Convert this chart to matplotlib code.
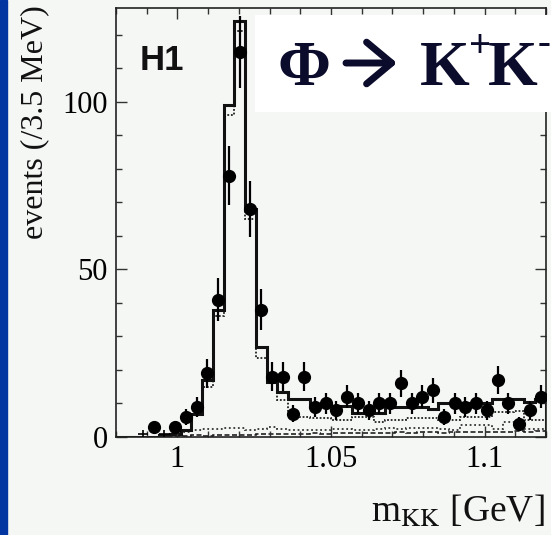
import numpy as np
import matplotlib
matplotlib.use("Agg")
import matplotlib.pyplot as plt
from matplotlib import patches
from matplotlib.ticker import MultipleLocator

plt.rcParams['font.family'] = 'serif'
plt.rcParams['font.serif'] = ['Liberation Serif', 'DejaVu Serif']
plt.rcParams['mathtext.fontset'] = 'stix'

# binning of the K+K- invariant mass (3.5 MeV bins)
mass_lo = 0.98
bin_width = 0.0035
n_bins = 40

# measured events per bin (nan = empty bin)
data_counts = [np.nan, np.nan, 1, 3, 1, 3, 6, 9, 19, 41,
               78, 115, 68, 38, 18, 18, 7, 18, 9, 10,
               8, 12, 10, 8, 10, 10, 16, 10, 12, 14,
               6, 10, 9, 10, 8, 17, 10, 4, 8, 12]

# simulation: total, signal + background, background components
mc_total = [0, 0, 0, 0, 0.5, 0.8, 2.2, 7, 17, 38,
            99, 124, 68, 27, 16.5, 13.5, 11.3, 11.3, 9.3, 9.3,
            9.3, 9.3, 7.2, 7.2, 7.2, 9, 9, 9, 9, 8.4,
            10, 10, 10, 10, 10, 11.3, 11.3, 11.3, 10.5, 11.3]
mc_signal = [0, 0, 0, 0, 0.3, 0.8, 2, 6.5, 15, 36,
             96, 121, 65, 23.5, 16, 11, 7.5, 6, 5.6, 5.6,
             5, 5, 5.9, 5.9, 4.5, 5, 5, 5.6, 5.6, 5.6,
             5, 5, 6, 6, 6, 7.5, 7.5, 7.9, 5, 5]
mc_bkg1 = [0, 0, 0, 0, 0.2, 0.6, 1.5, 2, 2.3, 2.5,
           2.7, 2.7, 2.2, 2.5, 3, 2.5, 2.2, 2.2, 2, 2,
           2.4, 2.4, 2.2, 2, 2.4, 2.7, 2.4, 2.7, 2.7, 2.7,
           2.4, 2, 3.6, 3.6, 3.6, 2.4, 4.5, 4.5, 2.4, 2.4]
mc_bkg2 = [0, 0, 0, 0, 0.2, 0.3, 0.4, 0.5, 0.4, 0.6,
           0.6, 0.7, 0.6, 0.8, 0.9, 1, 0.8, 1, 1.1, 1,
           1.2, 1.1, 1.2, 1.3, 1.1, 1.3, 1.4, 1.2, 1.4, 1.5,
           1.3, 1.5, 1.4, 1.6, 1.5, 1.6, 1.4, 1.7, 1.6, 1.7]

xticks = [1.0, 1.05, 1.1]
xticklabels = ['1', '1.05', '1.1']
yticks = [0, 50, 100]

edges = mass_lo + bin_width * np.arange(n_bins + 1)
centers = 0.5 * (edges[:-1] + edges[1:])
counts = np.array(data_counts, dtype=float)

bg = '#f5f7f5'
W, H = 551, 535
fig = plt.figure(figsize=(W / 100, H / 100), dpi=100, facecolor=bg)
ax = fig.add_axes([116 / W, 98 / H, 430 / W, 429 / H], facecolor=bg)

# histograms
ax.stairs(mc_bkg2, edges, color='#222222', lw=1.2, ls=(0, (3, 1.5)))
ax.stairs(mc_bkg1, edges, color='#333333', lw=1.3, ls=(0, (1, 1.5)))
ax.stairs(mc_signal, edges, color='#222222', lw=1.3, ls=(0, (1, 1)))
ax.stairs(mc_total, edges, color='#111111', lw=2.2)

# data points
big = counts > 1.5
ax.errorbar(centers[big], counts[big], yerr=np.sqrt(counts[big]), fmt='o',
            ms=8.5, color='black', elinewidth=1.6, capsize=0, zorder=5)
small = counts <= 1.5
ax.errorbar(centers[small], counts[small], yerr=np.sqrt(counts[small]),
            xerr=bin_width / 2, fmt='none', color='black', elinewidth=1.2,
            capsize=0, zorder=5)

ax.set_xlim(mass_lo, edges[-1])
ax.set_ylim(0, 128)
ax.set_xticks(xticks)
ax.set_xticklabels(xticklabels)
ax.set_yticks(yticks)
ax.xaxis.set_minor_locator(MultipleLocator(0.01))
ax.yaxis.set_minor_locator(MultipleLocator(10))
ax.tick_params(which='both', direction='in', top=True, right=True,
               labelsize=22, width=1.0, color='#333333')
ax.tick_params(which='major', length=8, pad=6)
ax.tick_params(which='minor', length=4.5)
for s in ax.spines.values():
    s.set_linewidth(1.2)
    s.set_color('#222222')

ax.text(0.056, 0.855, 'H1', transform=ax.transAxes, fontsize=25,
        fontweight='bold', family='Liberation Sans', color='#111111')

fig.text(35 / W, 1 - 5 / H, 'events (/3.5 MeV)', rotation=90,
         ha='center', va='top', fontsize=23, color='#111111')
fig.text(545 / W, 13 / H, r'm$_{\rm KK}$ [GeV]', ha='right',
         va='baseline', fontsize=27, color='#111111')

# blue strip on the left
fig.add_artist(patches.Rectangle((0, 0), 7 / W, 1, transform=fig.transFigure,
                                 color='#0336a0', zorder=10))

# title box
fig.add_artist(patches.Rectangle((255 / W, 1 - 112 / H), 0.6, 97 / H,
                                 transform=fig.transFigure, facecolor='white',
                                 edgecolor='none', zorder=10))
navy = '#0b0b2c'
tkw = dict(family='Liberation Serif', fontweight='bold', color=navy, zorder=11,
           transform=None)
fig.text(277, 450, '\u03a6', fontsize=46, **tkw)
fig.text(420, 450, 'K', fontsize=46, **tkw)
fig.text(469, 478, '+', fontsize=28, **tkw)
fig.text(488, 450, 'K', fontsize=46, **tkw)
fig.text(538, 481, '-', fontsize=28, **tkw)
fig.add_artist(patches.FancyArrowPatch((346 / W, 472 / H), (397 / W, 472 / H),
                                       transform=fig.transFigure,
                                       arrowstyle='->,head_length=0.9,head_width=0.75',
                                       mutation_scale=20, lw=5, color=navy,
                                       shrinkA=0, shrinkB=0, zorder=11))

fig.savefig('out.png', dpi=100, facecolor=bg)
